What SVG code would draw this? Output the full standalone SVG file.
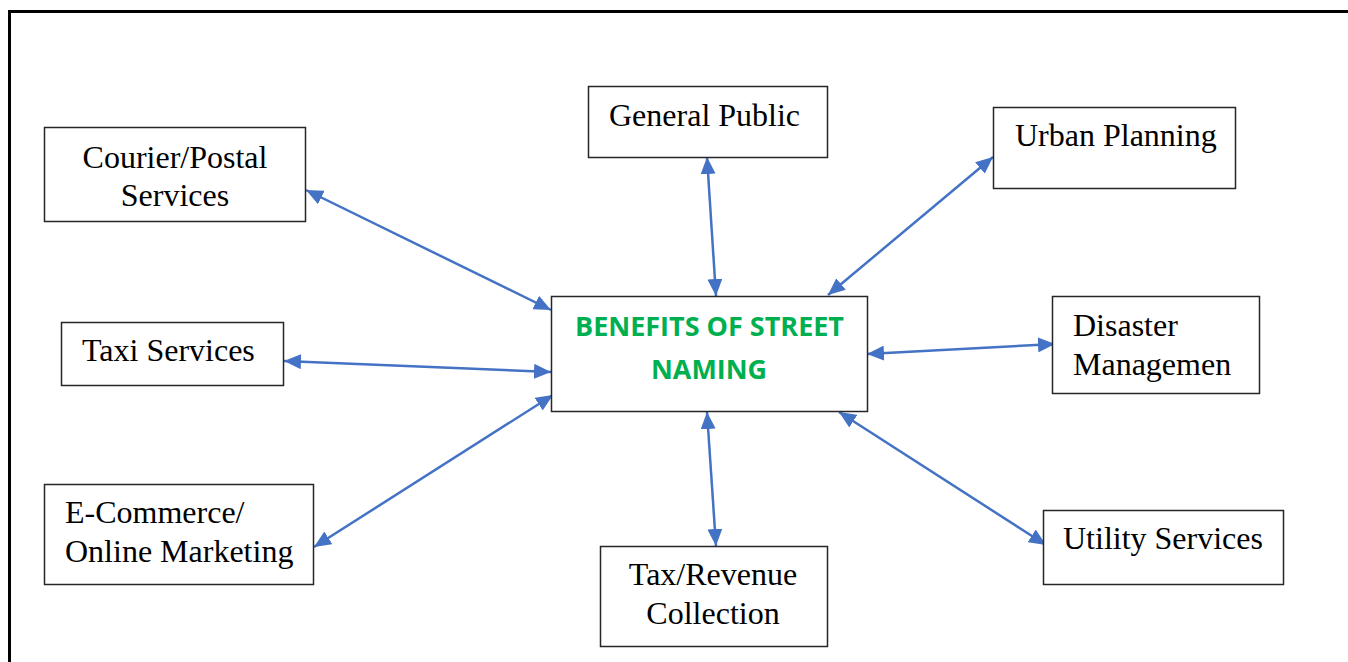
<svg xmlns="http://www.w3.org/2000/svg" width="1348" height="662" viewBox="0 0 1348 662">
<style>
.box{fill:#fff;stroke:#262626;stroke-width:1.5}
.t{font-family:"Liberation Serif","Times New Roman",serif;font-size:32px;fill:#000}
.c{font-family:"Open Sans","Liberation Sans",sans-serif;font-weight:bold;font-size:27px;fill:#00B050}
.a{stroke:#4472C4;stroke-width:2.5;fill:none;marker-start:url(#ah);marker-end:url(#ah)}
</style>
<defs>
<marker id="ah" markerUnits="userSpaceOnUse" markerWidth="18" markerHeight="15" refX="17" refY="7.5" orient="auto-start-reverse" viewBox="0 0 18 15">
<path d="M0,0 L17,7.5 L0,15 z" fill="#4472C4"/>
</marker>
</defs>
<rect width="1348" height="662" fill="#fff"/>
<path d="M9.5,662 L9.5,11.5 L1348,11.5" fill="none" stroke="#000" stroke-width="3"/>
<g id="connectors">
<line class="a" x1="306" y1="190" x2="551" y2="310"/>
<line class="a" x1="707" y1="157" x2="716" y2="296"/>
<line class="a" x1="993" y1="157" x2="828" y2="295"/>
<line class="a" x1="867" y1="354" x2="1055" y2="344"/>
<line class="a" x1="839" y1="412" x2="1046" y2="545"/>
<line class="a" x1="707" y1="412" x2="716" y2="546"/>
<line class="a" x1="284" y1="361" x2="551" y2="372"/>
<line class="a" x1="314" y1="547" x2="553" y2="395"/>
</g>
<g id="center">
<rect class="box" x="551.5" y="296.5" width="316" height="115"/>
<text class="c" x="709.5" y="336" text-anchor="middle" textLength="269" lengthAdjust="spacingAndGlyphs">BENEFITS OF STREET</text>
<text class="c" x="709" y="379" text-anchor="middle" textLength="116" lengthAdjust="spacingAndGlyphs">NAMING</text>
</g>
<g id="general-public">
<rect class="box" x="588.5" y="86.5" width="239" height="71"/>
<text class="t" x="609" y="126">General Public</text>
</g>
<g id="courier">
<rect class="box" x="44.5" y="127.5" width="261" height="94"/>
<text class="t" x="175" y="168" text-anchor="middle">Courier/Postal</text>
<text class="t" x="175" y="206" text-anchor="middle">Services</text>
</g>
<g id="taxi">
<rect class="box" x="61.5" y="322.5" width="222" height="63"/>
<text class="t" x="82" y="361">Taxi Services</text>
</g>
<g id="ecommerce">
<rect class="box" x="44.5" y="484.5" width="269" height="100"/>
<text class="t" x="65" y="523">E-Commerce/</text>
<text class="t" x="65" y="562">Online Marketing</text>
</g>
<g id="tax">
<rect class="box" x="600.5" y="546.5" width="227" height="100"/>
<text class="t" x="713" y="585" text-anchor="middle">Tax/Revenue</text>
<text class="t" x="713" y="624" text-anchor="middle">Collection</text>
</g>
<g id="utility">
<rect class="box" x="1043.5" y="510.5" width="240" height="74"/>
<text class="t" x="1063" y="549">Utility Services</text>
</g>
<g id="disaster">
<rect class="box" x="1052.5" y="296.5" width="207" height="97"/>
<text class="t" x="1073" y="336">Disaster</text>
<text class="t" x="1073" y="375">Managemen</text>
</g>
<g id="urban">
<rect class="box" x="993.5" y="107.5" width="242" height="81"/>
<text class="t" x="1015" y="146">Urban Planning</text>
</g>
</svg>
